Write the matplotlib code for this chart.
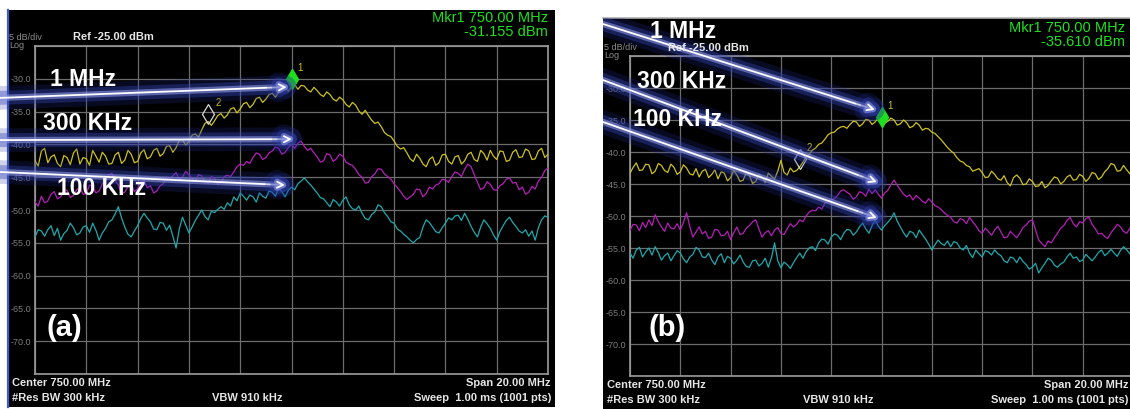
import numpy as np
import matplotlib
matplotlib.use('Agg')
import matplotlib.pyplot as plt
import matplotlib.patheffects as pe
from matplotlib.transforms import offset_copy

plt.rcParams['font.family'] = ['Liberation Sans', 'DejaVu Sans']

W, H = 1130, 409

# sweep: 740 - 760 MHz, values read every 0.125 MHz
freq = np.linspace(740.0, 760.0, 161)

# panel (a), dBm
a_1mhz = [-42.5, -43.3, -41.0, -40.6, -42.8, -41.9, -41.6, -42.9, -43.4, -41.7,
          -42.0, -43.1, -41.3, -40.7, -43.0, -42.0, -42.2, -43.2, -40.9, -41.8,
          -42.7, -41.2, -41.8, -43.0, -42.9, -41.6, -41.2, -42.9, -42.4, -40.9,
          -41.5, -42.8, -42.6, -41.3, -40.8, -42.2, -41.9, -40.9, -40.6, -41.8,
          -41.4, -40.3, -40.2, -41.2, -40.5, -39.4, -39.3, -40.1, -39.6, -38.6,
          -38.4, -38.9, -37.8, -36.8, -36.5, -37.1, -36.4, -35.6, -35.3, -36.0,
          -35.5, -34.6, -34.4, -35.2, -34.6, -33.8, -33.6, -34.4, -33.9, -33.0,
          -32.8, -33.6, -33.1, -32.4, -32.2, -32.8, -32.0, -31.5, -31.3, -31.9,
          -31.2, -30.9, -31.6, -31.0, -31.1, -31.7, -32.0, -31.3, -31.8, -32.4,
          -32.7, -32.0, -32.4, -33.1, -33.4, -32.8, -33.2, -33.9, -34.3, -33.6,
          -34.0, -34.9, -35.4, -34.8, -35.6, -36.3, -36.8, -36.6, -37.3, -38.2,
          -38.6, -38.8, -39.5, -40.3, -40.7, -40.5, -41.3, -42.2, -42.6, -41.5,
          -42.1, -43.0, -43.4, -42.3, -41.9, -43.2, -42.8, -41.6, -41.5, -42.6,
          -43.0, -41.9, -41.7, -43.0, -42.5, -41.5, -41.2, -42.3, -42.6, -40.9,
          -41.4, -42.4, -40.9, -41.8, -42.3, -41.0, -41.1, -42.6, -42.4, -41.2,
          -40.8, -42.0, -41.9, -40.7, -41.0, -42.3, -42.2, -41.0, -40.6, -42.0,
          -41.5]
a_300khz = [-48.8, -49.4, -47.9, -48.9, -48.6, -47.6, -47.2, -48.3, -48.0, -46.9,
            -47.0, -48.1, -47.8, -46.9, -46.6, -47.6, -47.5, -46.2, -46.4, -47.4,
            -47.1, -46.0, -45.6, -44.6, -44.4, -45.5, -46.2, -47.5, -47.3, -46.4,
            -46.0, -47.2, -46.8, -45.7, -45.5, -46.6, -46.3, -47.4, -47.1, -46.3,
            -46.0, -45.0, -45.3, -44.8, -44.3, -45.4, -45.0, -44.1, -44.6, -45.2,
            -45.6, -44.6, -44.8, -45.7, -45.9, -44.9, -45.2, -46.1, -45.8, -44.9,
            -44.7, -44.9, -44.2, -43.4, -43.0, -43.2, -42.6, -42.9, -42.0, -41.3,
            -41.5, -42.3, -42.0, -41.3, -41.0, -40.4, -40.6, -41.5, -41.2, -40.5,
            -40.0, -40.6, -39.8, -39.5, -40.3, -40.9, -40.6, -41.3, -41.9, -42.7,
            -42.5, -41.4, -41.6, -42.6, -42.2, -41.5, -41.8, -42.7, -43.0, -43.2,
            -43.8, -44.6, -45.0, -45.9, -45.8, -44.9, -44.5, -43.7, -43.8, -44.5,
            -44.9, -45.3, -46.0, -46.6, -47.2, -47.9, -48.4, -48.0, -47.6, -46.8,
            -46.9, -48.0, -47.5, -46.5, -46.8, -46.2, -46.0, -45.3, -45.4, -45.8,
            -44.9, -44.2, -44.4, -44.9, -43.8, -43.0, -43.4, -44.6, -45.8, -46.9,
            -46.6, -45.7, -46.1, -46.9, -47.0, -46.3, -46.0, -45.3, -45.1, -45.9,
            -45.8, -46.9, -46.5, -47.6, -47.3, -46.4, -46.8, -45.6, -45.0, -44.0,
            -43.6]
a_100khz = [-54.1, -53.0, -53.2, -54.0, -53.0, -52.4, -53.9, -52.8, -54.6, -53.6,
            -53.1, -52.0, -52.7, -53.8, -53.5, -52.6, -52.4, -53.4, -52.0, -53.1,
            -54.6, -53.5, -52.8, -51.8, -51.5, -50.6, -49.5, -51.2, -52.6, -53.7,
            -54.1, -53.2, -52.4, -51.3, -50.5, -51.2, -51.8, -52.9, -53.0, -51.9,
            -52.0, -53.1, -52.3, -54.0, -55.8, -52.9, -51.1, -52.3, -53.5, -52.6,
            -51.6, -50.8, -50.0, -51.0, -51.5, -50.2, -50.4, -49.9, -49.5, -49.9,
            -48.9, -49.4, -48.0, -48.6, -47.4, -47.9, -48.5, -47.7, -48.0, -48.8,
            -47.4, -47.9, -48.2, -47.1, -47.3, -47.9, -46.6, -47.2, -48.0, -47.0,
            -46.5, -46.9, -46.0, -45.6, -45.1, -45.7, -46.2, -46.8, -47.4, -48.1,
            -48.3, -48.9, -49.5, -48.4, -48.8, -49.4, -48.5, -48.0, -49.2, -49.8,
            -50.0, -49.4, -50.5, -51.3, -51.5, -50.7, -50.3, -49.2, -49.5, -50.4,
            -51.0, -51.8, -52.0, -52.9, -53.2, -53.7, -54.1, -54.6, -55.0, -54.5,
            -54.2, -52.6, -51.5, -51.9, -52.6, -53.3, -53.5, -52.7, -52.0, -51.2,
            -51.5, -50.9, -50.8, -51.6, -50.5, -51.4, -52.5, -53.4, -54.1, -52.6,
            -51.5, -52.1, -52.8, -53.8, -54.6, -53.3, -52.4, -51.6, -51.1, -51.9,
            -52.5, -53.2, -53.5, -53.0, -54.0, -53.2, -54.6, -52.7, -51.5, -50.9,
            -51.1]

# panel (b), dBm
b_1mhz = [-43.3, -42.4, -41.7, -42.9, -42.8, -41.9, -42.0, -43.4, -43.0, -41.8,
          -42.1, -42.9, -43.2, -41.9, -42.4, -43.5, -43.1, -42.0, -42.5, -43.4,
          -43.6, -42.6, -43.9, -43.0, -42.7, -44.0, -43.5, -42.8, -44.2, -43.1,
          -43.3, -44.5, -44.0, -42.9, -43.6, -44.6, -44.4, -43.2, -43.7, -44.9,
          -44.6, -43.5, -43.9, -44.8, -43.3, -43.8, -44.2, -43.0, -41.3, -43.2,
          -43.6, -42.5, -43.1, -42.9, -42.3, -41.6, -40.8, -40.4, -39.7, -39.4,
          -38.8, -38.6, -38.0, -37.3, -37.0, -36.9, -36.4, -36.1, -36.0, -36.3,
          -35.7, -35.2, -35.3, -36.0, -35.6, -34.9, -35.0, -35.7, -35.3, -34.6,
          -34.8, -35.5, -35.2, -34.7, -35.0, -35.8, -35.6, -35.0, -35.4, -36.2,
          -36.0, -35.4, -35.8, -36.6, -36.3, -36.4, -36.9, -37.1, -37.6, -38.1,
          -38.7, -39.3, -39.8, -40.2, -40.9, -41.4, -41.6, -42.1, -42.3, -43.0,
          -42.8, -42.6, -43.2, -44.0, -43.9, -43.0, -43.5, -44.2, -44.4, -43.7,
          -44.8, -45.3, -44.0, -43.6, -44.1, -45.1, -45.0, -44.2, -44.6, -45.4,
          -45.3, -44.6, -45.6, -45.2, -44.5, -43.9, -44.1, -45.0, -44.6, -43.9,
          -43.6, -44.4, -44.3, -43.5, -43.8, -44.6, -44.1, -43.2, -43.4, -44.3,
          -43.9, -43.1, -42.6, -41.8, -42.0, -43.0, -42.9, -42.1, -42.8, -43.4,
          -42.3]
b_300khz = [-52.2, -51.3, -51.4, -52.3, -51.0, -51.8, -50.6, -51.5, -49.8, -50.9,
            -51.7, -52.4, -51.1, -51.9, -52.0, -51.2, -52.2, -51.0, -49.5, -51.6,
            -53.3, -52.5, -51.7, -52.8, -52.4, -53.5, -53.3, -52.1, -52.2, -53.1,
            -53.0, -52.4, -53.7, -52.6, -51.7, -52.9, -52.7, -51.9, -51.5, -50.9,
            -50.6, -52.0, -53.3, -52.6, -52.3, -53.1, -52.2, -51.8, -52.7, -52.9,
            -52.0, -51.2, -51.7, -51.3, -50.6, -50.9, -50.0, -49.4, -49.1, -49.2,
            -48.6, -48.9, -48.0, -47.6, -47.5, -47.3, -46.8, -46.1, -45.9, -46.3,
            -46.6, -47.4, -47.0, -46.2, -46.4, -46.9, -45.8, -46.5, -45.9, -46.6,
            -47.2, -46.4, -46.0, -45.1, -44.4, -45.2, -45.9, -46.6, -47.0, -46.7,
            -47.5, -46.8, -47.2, -47.7, -48.0, -47.3, -47.8, -48.4, -48.6, -49.0,
            -49.5, -49.9, -50.2, -50.9, -51.1, -50.4, -50.6, -51.2, -50.2, -50.9,
            -51.5, -52.3, -52.7, -51.9, -52.4, -53.0, -52.2, -51.6, -52.5, -53.4,
            -53.3, -52.4, -52.9, -53.4, -52.7, -51.8, -51.4, -50.8, -50.6, -52.2,
            -53.75, -54.3, -54.8, -53.9, -54.2, -53.4, -52.7, -51.9, -51.5, -50.7,
            -50.2, -51.2, -51.7, -50.9, -51.1, -50.4, -50.2, -51.3, -52.0, -52.8,
            -52.7, -53.2, -53.5, -52.6, -52.0, -51.3, -51.7, -52.4, -52.7, -51.9,
            -52.4]
b_100khz = [-55.8, -56.6, -55.3, -54.9, -56.4, -55.6, -55.0, -56.1, -54.8, -55.7,
            -56.9, -56.2, -55.8, -57.0, -56.2, -55.4, -55.8, -56.7, -57.3, -56.4,
            -56.0, -54.9, -55.3, -56.4, -56.5, -55.8, -56.9, -57.6, -56.4, -55.9,
            -57.3, -56.3, -56.6, -57.5, -56.9, -56.1, -57.2, -57.9, -58.0, -57.0,
            -56.9, -57.8, -57.4, -56.6, -58.0, -56.5, -54.2, -57.0, -58.1, -57.2,
            -57.6, -58.2, -57.3, -56.5, -55.8, -56.6, -55.6, -55.0, -54.8, -55.4,
            -54.2, -53.6, -53.75, -54.4, -53.3, -52.8, -53.0, -53.7, -52.7, -52.1,
            -52.2, -53.0, -52.5, -51.7, -51.1, -52.0, -52.7, -51.5, -50.6, -51.6,
            -52.2, -51.5, -51.0, -50.4, -49.5, -50.8, -51.7, -52.6, -53.3, -52.4,
            -52.6, -53.4, -52.2, -52.9, -53.6, -54.4, -55.3, -54.5, -53.75, -54.3,
            -54.6, -53.9, -54.8, -54.0, -54.2, -55.0, -55.3, -54.6, -55.8, -56.5,
            -55.3, -55.9, -56.4, -55.4, -55.6, -56.1, -55.3, -55.9, -56.2, -57.0,
            -57.3, -56.4, -56.6, -57.3, -56.4, -57.1, -57.6, -58.3, -58.0, -57.4,
            -58.9, -58.1, -57.4, -56.6, -56.9, -57.7, -58.0, -57.5, -57.2, -56.4,
            -55.8, -56.6, -56.4, -57.1, -56.9, -56.0, -56.5, -57.0, -56.4, -55.7,
            -55.3, -56.2, -55.8, -55.2, -55.8, -56.3, -55.4, -54.8, -55.3, -55.9,
            -55.0]

# marker readouts
mkr1_freq = 750.0
a_mkr1 = -31.155
b_mkr1 = -35.610
mkr2_freq = 746.75
a_mkr2 = -36.4
b_mkr2 = -42.2

YELLOW = '#cdc21e'
MAGENTA = '#b51fb8'
CYAN = '#1fa9ae'
GREEN = '#1ee01e'
TXT = '#e6e6e6'


def fx(x):
    return x / W


def fy(y):
    return 1 - y / H


def box(x0, y0, x1, y1):
    return [fx(x0), fy(y1), (x1 - x0) / W, (y1 - y0) / H]


fig = plt.figure(figsize=(W / 100, H / 100), dpi=100)
fig.patch.set_facecolor('white')

glow = [pe.Stroke(linewidth=17, foreground='#24309a', alpha=0.22),
        pe.Stroke(linewidth=10, foreground='#3444b4', alpha=0.38),
        pe.Stroke(linewidth=4.5, foreground='#8a94e2', alpha=0.6),
        pe.Normal()]


def panel(bg, grid, traces, mkr1, mkr2, mkr_text, arrows, clip_arrows,
          labels, tag, txt, blue_edge):
    axb = fig.add_axes(box(*bg))
    axb.set_facecolor('black')
    axb.set_xticks([])
    axb.set_yticks([])
    for s in axb.spines.values():
        s.set_visible(False)
    if blue_edge:
        axb.spines['left'].set_visible(True)
        axb.spines['left'].set_color('#3a5cd0')
        axb.spines['left'].set_linewidth(1.6)
    else:
        axb.spines['top'].set_visible(True)
        axb.spines['top'].set_color('#b0b0b0')
        axb.spines['top'].set_linewidth(1.2)

    ax = fig.add_axes(box(*grid))
    ax.set_facecolor('black')
    ax.set_xlim(740, 760)
    ax.set_ylim(-75, -25)
    ax.set_xticks(np.arange(740, 761, 2))
    ax.set_xticklabels([])
    yt = np.arange(-75, -24, 5)
    ax.set_yticks(yt)
    ax.set_yticklabels(['' if v in (-75, -25) else '%.1f' % v for v in yt])
    ax.tick_params(length=0, colors='#7c7c7c', labelsize=6.5, pad=2.5)
    ax.grid(True, color='#6c6c6c', lw=0.9)
    for s in ax.spines.values():
        s.set_color('#9c9c9c')
        s.set_linewidth(1.2)

    for vals, col in zip(traces, [YELLOW, MAGENTA, CYAN]):
        ax.plot(freq, vals, color=col, lw=0.9, zorder=3)

    up = offset_copy(ax.transData, fig=fig, x=0, y=7, units='dots')
    ax.plot([mkr1[0]], [mkr1[1]], marker='d', ms=10, color=GREEN,
            mec=GREEN, transform=up, zorder=6, clip_on=False)
    ax.annotate('1', (mkr1[0], mkr1[1]), xytext=(4, 11), textcoords='offset points',
                color=YELLOW, fontsize=7, zorder=6)
    ax.plot([mkr2[0]], [mkr2[1]], marker='d', ms=10, mfc='none', mec='#d8d8d8',
            mew=0.9, transform=up, zorder=6)
    ax.annotate('2', (mkr2[0], mkr2[1]), xytext=(5, 11), textcoords='offset points',
                color=YELLOW, fontsize=7, zorder=6)

    for start, tip in arrows:
        an = ax.annotate('', xy=tip, xytext=start, xycoords='data', textcoords='data',
                         arrowprops=dict(arrowstyle='->', color='white', lw=1.3,
                                         shrinkA=0, shrinkB=0, mutation_scale=11),
                         annotation_clip=False, zorder=7)
        if clip_arrows:
            an.arrow_patch.set_clip_on(True)
            an.arrow_patch.set_clip_path(axb.patch)
        else:
            an.arrow_patch.set_clip_on(False)
        an.arrow_patch.set_path_effects(glow)

    for s, (x, y) in labels:
        fig.text(fx(x), fy(y), s, color='white', fontsize=16.5, fontweight='bold',
                 va='center', ha='left', zorder=10)
    fig.text(fx(tag[1]), fy(tag[2]), tag[0], color='white', fontsize=21,
             fontweight='bold', va='center', ha='left', zorder=10)

    right = txt['right']
    fig.text(fx(bg[0] + 1), fy(txt['hdr']), '5 dB/div', color='#8c8c8c', fontsize=6.5,
             va='center', zorder=10)
    fig.text(fx(bg[0] + 1), fy(txt['hdr'] + 8), 'Log', color='#8c8c8c', fontsize=6.5,
             va='center', zorder=10)
    fig.text(fx(txt['ref']), fy(txt['hdr']), 'Ref -25.00 dBm', color=TXT, fontsize=8,
             fontweight='bold', va='center', zorder=10)
    fig.text(fx(right), fy(txt['mk']), 'Mkr1 750.00 MHz', color=GREEN, fontsize=10.5,
             ha='right', va='center', zorder=10)
    fig.text(fx(right), fy(txt['mk'] + 14), mkr_text, color=GREEN, fontsize=10.5,
             ha='right', va='center', zorder=10)

    r1, r2 = txt['bot'], txt['bot'] + 15
    fig.text(fx(bg[0] + 4), fy(r1), 'Center 750.00 MHz', color=TXT, fontsize=8,
             fontweight='bold', va='center', zorder=10)
    fig.text(fx(bg[0] + 4), fy(r2), '#Res BW 300 kHz', color=TXT, fontsize=8,
             fontweight='bold', va='center', zorder=10)
    fig.text(fx(txt['vbw']), fy(r2), 'VBW 910 kHz', color=TXT, fontsize=8,
             fontweight='bold', va='center', ha='center', zorder=10)
    fig.text(fx(right + 3), fy(r1), 'Span 20.00 MHz', color=TXT, fontsize=8,
             fontweight='bold', va='center', ha='right', zorder=10)
    fig.text(fx(right + 3), fy(r2), 'Sweep  1.00 ms (1001 pts)', color=TXT, fontsize=8,
             fontweight='bold', va='center', ha='right', zorder=10)


panel(bg=(8, 10, 555, 407), grid=(35, 46, 548, 374),
      traces=[a_1mhz, a_300khz, a_100khz],
      mkr1=(mkr1_freq, a_mkr1), mkr2=(mkr2_freq, a_mkr2),
      mkr_text='%.3f dBm' % a_mkr1,
      arrows=[((738.05, -33.0), (749.82, -31.25)),
              ((738.05, -39.35), (750.02, -39.2)),
              ((738.05, -44.1), (749.75, -46.2))],
      clip_arrows=False,
      labels=[('1 MHz', (50, 80)), ('300 KHz', (43, 124)), ('100 KHz', (57, 189))],
      tag=('(a)', 47, 328),
      txt=dict(hdr=37, ref=73, mk=18, bot=383, vbw=247, right=548),
      blue_edge=True)

panel(bg=(603, 18, 1136, 412), grid=(630, 56, 1133, 376),
      traces=[b_1mhz, b_300khz, b_100khz],
      mkr1=(mkr1_freq, b_mkr1), mkr2=(mkr2_freq, b_mkr2),
      mkr_text='%.3f dBm' % b_mkr1,
      arrows=[((738.41, -19.36), (749.74, -33.4)),
              ((738.41, -28.0), (749.82, -44.7)),
              ((738.41, -34.6), (749.82, -50.3))],
      clip_arrows=True,
      labels=[('1 MHz', (650, 32)), ('300 KHz', (637, 82)), ('100 KHz', (633, 119))],
      tag=('(b)', 649, 328),
      txt=dict(hdr=48, ref=668, mk=28, bot=385, vbw=838, right=1125),
      blue_edge=False)

fig.savefig('out.png', dpi=100, facecolor='white')
